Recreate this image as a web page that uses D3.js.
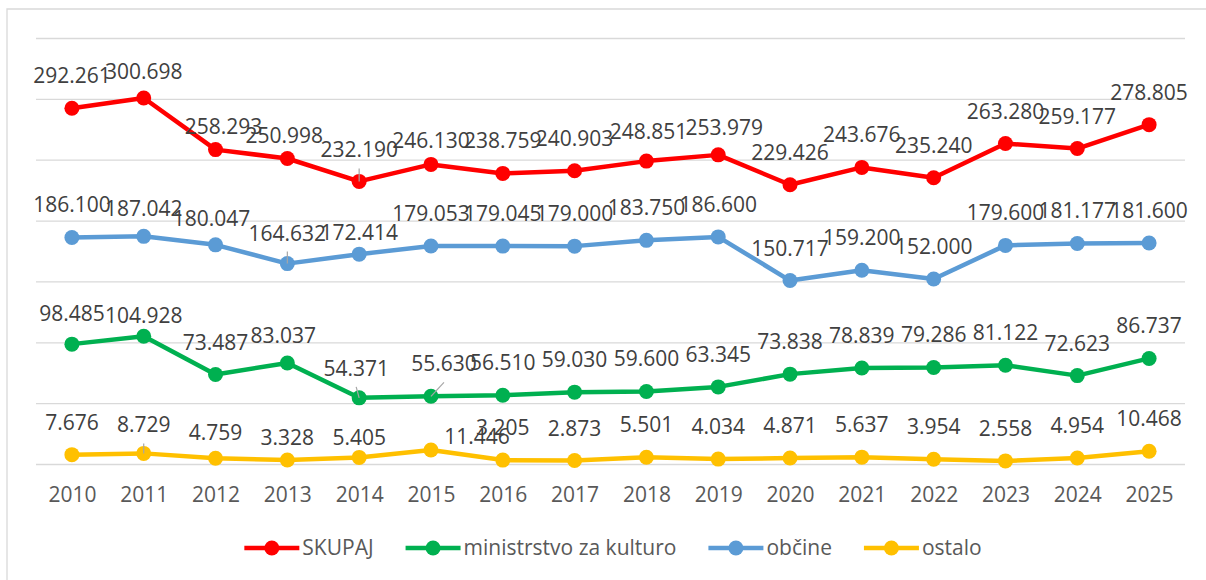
<!DOCTYPE html>
<html>
<head>
<meta charset="utf-8">
<script src="https://cdn.jsdelivr.net/npm/d3@7"></script>
<style>
  body { margin: 0; background: #fff; }
  svg { display: block; font-family: "Open Sans", "Noto Sans", sans-serif; }
</style>
</head>
<body>
<svg id="chart" width="1206" height="580"></svg>
<script>
const years = ["2010", "2011", "2012", "2013", "2014", "2015", "2016", "2017",
               "2018", "2019", "2020", "2021", "2022", "2023", "2024", "2025"];
const skupaj = [292261, 300698, 258293, 250998, 232190, 246130, 238759, 240903,
                248851, 253979, 229426, 243676, 235240, 263280, 259177, 278805];
const ministrstvo = [98485, 104928, 73487, 83037, 54371, 55630, 56510, 59030,
                     59600, 63345, 73838, 78839, 79286, 81122, 72623, 86737];
const obcine = [186100, 187042, 180047, 164632, 172414, 179053, 179045, 179000,
                183750, 186600, 150717, 159200, 152000, 179600, 181177, 181600];
const ostalo = [7676, 8729, 4759, 3328, 5405, 11446, 3205, 2873,
                5501, 4034, 4871, 5637, 3954, 2558, 4954, 10468];
const yTicks = [0, 50000, 100000, 150000, 200000, 250000, 300000, 350000];

const series = [
  { name: "SKUPAJ", values: skupaj, color: "#ff0000" },
  { name: "ministrstvo za kulturo", values: ministrstvo, color: "#00b050" },
  { name: "občine", values: obcine, color: "#5b9bd5" },
  { name: "ostalo", values: ostalo, color: "#ffc000" }
];

// labels that were dragged by hand in the original (dx, baseline dy, leader line)
const labelNudge = {
  "SKUPAJ|2011": [0, -19], "SKUPAJ|2012": [8, -16], "SKUPAJ|2013": [-3, -15],
  "SKUPAJ|2014": [0, -24, true], "SKUPAJ|2015": [0, -16], "SKUPAJ|2018": [2, -22],
  "SKUPAJ|2019": [6, -20],
  "občine|2011": [0, -20], "občine|2012": [-4, -19], "občine|2013": [0, -23, true],
  "občine|2014": [0, -14],
  "ministrstvo za kulturo|2010": [0, -23], "ministrstvo za kulturo|2011": [0, -13],
  "ministrstvo za kulturo|2013": [-4, -20], "ministrstvo za kulturo|2014": [-3, -22, true],
  "ministrstvo za kulturo|2015": [13, -25, true],
  "ostalo|2011": [0, -21, true], "ostalo|2012": [0, -18], "ostalo|2013": [0, -15],
  "ostalo|2014": [0, -12], "ostalo|2015": [46, -6]
};

const svg = d3.select("#chart");
const plotLeft = 36, plotRight = 1185, plotTop = 38, plotBottom = 464;

const fmt = d3.formatLocale({ decimal: ",", thousands: ".", grouping: [3], currency: ["", ""] }).format(",");

const x = d3.scalePoint().domain(years).range([plotLeft, plotRight]).padding(0.5);
const y = d3.scaleLinear().domain([0, 350000]).range([plotBottom, plotTop]);

// outer chart frame
svg.append("path")
  .attr("d", "M7,600V9H1220")
  .attr("fill", "none")
  .attr("stroke", "#d9d9d9")
  .attr("stroke-width", 1.3);

// gridlines
svg.append("g")
  .attr("transform", `translate(${plotLeft},0)`)
  .call(d3.axisLeft(y).tickValues(yTicks).tickSize(-(plotRight - plotLeft)).tickFormat(""))
  .call(g => g.select(".domain").remove())
  .call(g => g.selectAll(".tick line").attr("stroke", "#d9d9d9").attr("stroke-width", 1.3));

// year labels
svg.append("g")
  .attr("transform", `translate(0,${plotBottom})`)
  .call(d3.axisBottom(x).tickSize(0).tickPadding(23))
  .call(g => g.select(".domain").remove())
  .call(g => g.selectAll("text")
    .attr("fill", "#595959")
    .style("font-size", "21px")
    .style("font-family", "'Open Sans', sans-serif"));

const line = d3.line()
  .x((d, i) => x(years[i]))
  .y(d => y(d));

series.forEach(s => {
  const g = svg.append("g");
  g.append("path")
    .datum(s.values)
    .attr("d", line)
    .attr("fill", "none")
    .attr("stroke", s.color)
    .attr("stroke-width", 4.5)
    .attr("stroke-linejoin", "round");
  g.selectAll("circle")
    .data(s.values)
    .enter().append("circle")
      .attr("cx", (d, i) => x(years[i]))
      .attr("cy", d => y(d))
      .attr("r", 7.5)
      .attr("fill", s.color);
});

// data labels
series.forEach(s => {
  s.values.forEach((v, i) => {
    const n = labelNudge[s.name + "|" + years[i]] || [0, -25];
    const px = x(years[i]), py = y(v);
    const lx = px + n[0], ly = py + n[1];
    if (n[2]) {
      svg.append("line")
        .attr("x1", lx).attr("y1", ly + 11)
        .attr("x2", px).attr("y2", py)
        .attr("stroke", "#a6a6a6")
        .attr("stroke-width", 1.2);
    }
    svg.append("text")
      .attr("x", lx)
      .attr("y", ly)
      .attr("text-anchor", "middle")
      .attr("fill", "#404040")
      .style("font-size", "21px")
      .text(fmt(v));
  });
});

// legend
const legend = svg.append("g");
const items = legend.selectAll("g")
  .data(series)
  .enter().append("g");
items.append("line")
  .attr("x1", 0).attr("x2", 55)
  .attr("y1", 0).attr("y2", 0)
  .attr("stroke", d => d.color)
  .attr("stroke-width", 4.5);
items.append("circle")
  .attr("cx", 27.5).attr("cy", 0).attr("r", 7.5)
  .attr("fill", d => d.color);
items.append("text")
  .attr("x", 58)
  .attr("y", 0)
  .attr("dy", "0.35em")
  .attr("fill", "#595959")
  .style("font-size", "21px")
  .text(d => d.name);

let offs = [], cur = 0;
items.each(function() {
  const w = 58 + d3.select(this).select("text").node().getComputedTextLength();
  offs.push(cur);
  cur += w + 32;
});
const total = cur - 32;
const start = 613 - total / 2;
items.attr("transform", (d, i) => `translate(${start + offs[i]},548)`);
</script>
</body>
</html>
